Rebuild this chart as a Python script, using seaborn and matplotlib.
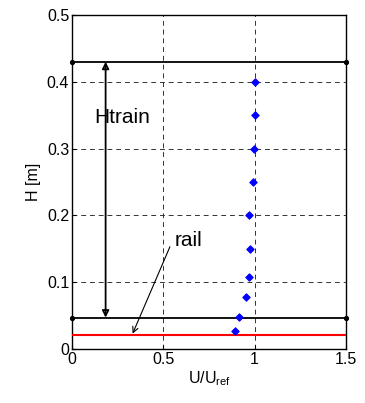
import matplotlib
matplotlib.use("Agg")
import matplotlib.pyplot as plt
import seaborn as sns
import pandas as pd

# data
u_ratio = [0.892, 0.916, 0.954, 0.967, 0.974, 0.969, 0.99, 0.995, 1.0, 1.0]
height = [0.027, 0.048, 0.078, 0.108, 0.15, 0.2, 0.25, 0.3, 0.35, 0.4]
train_top = 0.43
train_bottom = 0.047
rail_h = 0.021
htrain_x = 0.184
xticks = [0, 0.5, 1, 1.5]
yticks = [0, 0.1, 0.2, 0.3, 0.4, 0.5]
xticklabels = ["0", "0.5", "1", "1.5"]
yticklabels = ["0", "0.1", "0.2", "0.3", "0.4", "0.5"]

sns.set_style("white")
plt.rcParams['font.family'] = ['Liberation Sans', 'DejaVu Sans']

fig = plt.figure(figsize=(3.65, 4.03), dpi=100)
ax = fig.add_axes([72/365, 1 - 349/403, (346-72)/365, (349-15)/403])

ax.set_xlim(0, 1.5)
ax.set_ylim(0, 0.5)
ax.set_xticks(xticks)
ax.set_xticklabels(xticklabels)
ax.set_yticks(yticks)
ax.set_yticklabels(yticklabels)
ax.grid(True, color='#333333', linestyle=(0, (5, 4)), linewidth=0.7)
ax.tick_params(direction='in', length=3, labelsize=11.5, colors='k', labelcolor='k', pad=2,
               top=False, right=False, left=True, bottom=True)

for h in [train_top, train_bottom]:
    df = pd.DataFrame({'x': [0, 1.5], 'y': [h, h]})
    sns.lineplot(data=df, x='x', y='y', color='k', linewidth=1.3, marker='o',
                 markersize=3, markeredgecolor='k', ax=ax, clip_on=False, zorder=3)
df = pd.DataFrame({'x': [0, 1.5], 'y': [rail_h, rail_h]})
sns.lineplot(data=df, x='x', y='y', color='#ff0000', linewidth=1.5, ax=ax, zorder=3)

pts = pd.DataFrame({'u': u_ratio, 'h': height})
sns.scatterplot(data=pts, x='u', y='h', marker='D', s=14, color='#0000ff',
                edgecolor='#0000ff', linewidth=0.8, ax=ax, zorder=4)

ax.annotate('', xy=(htrain_x, train_bottom), xytext=(htrain_x, train_top),
            arrowprops=dict(arrowstyle='<|-|>', color='k', lw=1.3,
                            shrinkA=0, shrinkB=0, mutation_scale=10,
                            fill=False))
ax.text(0.12, 0.346, 'Htrain', fontsize=15, va='center', ha='left', color='k')
ax.text(0.56, 0.163, 'rail', fontsize=15, va='center', ha='left', color='k')
ax.annotate('', xy=(0.332, rail_h + 0.002), xytext=(0.536, 0.153),
            arrowprops=dict(arrowstyle='->', color='k', lw=0.8,
                            shrinkA=0, shrinkB=0))

ax.set_xlabel('U/U$_{\\mathregular{ref}}$', fontsize=11.5, labelpad=2, color='k')
ax.set_ylabel('H [m]', fontsize=11.5, labelpad=4, color='k')
for s in ax.spines.values():
    s.set_color('k')
    s.set_linewidth(1.0)

fig.savefig('out.png', dpi=100)
